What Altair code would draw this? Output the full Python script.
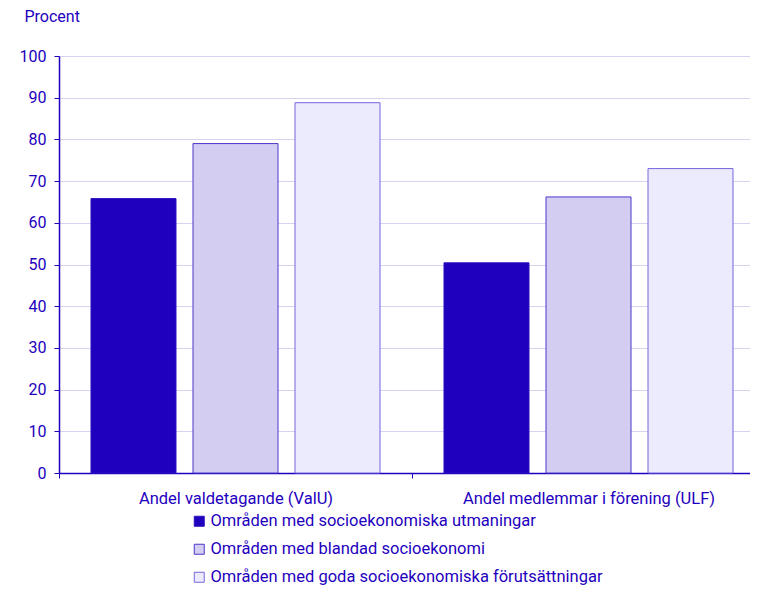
import altair as alt
import pandas as pd

categories = ["Andel valdetagande (ValU)", "Andel medlemmar i förening (ULF)"]
groups = [
    "Områden med socioekonomiska utmaningar",
    "Områden med blandad socioekonomi",
    "Områden med goda socioekonomiska förutsättningar",
]
valu = [65.8, 79.0, 88.8]
ulf = [50.4, 66.2, 73.0]

rows = []
for g, v in zip(groups, valu):
    rows.append({"kategori": categories[0], "grupp": g, "procent": v})
for g, v in zip(groups, ulf):
    rows.append({"kategori": categories[1], "grupp": g, "procent": v})
df = pd.DataFrame(rows)

TXT = "#1E00BE"
fills = ["#1E00BE", "#D2CDF1", "#ECEAFD"]
strokes = ["#2A10C0", "#4A38CC", "#7466DD"]
FONT = "Roboto"

chart = alt.Chart(df).mark_bar(strokeWidth=1).encode(
    x=alt.X("kategori:N", sort=categories,
            scale=alt.Scale(range=[0, 706], paddingInner=0, paddingOuter=0),
            axis=alt.Axis(title=None, labelAngle=0, tickBand="extent",
                          labelFontSize=16.5, labelPadding=12, labelLimit=600,
                          domainColor=TXT, tickColor=TXT, tickSize=5,
                          domainWidth=1.5)),
    xOffset=alt.XOffset("grupp:N", sort=groups,
                        scale=alt.Scale(paddingInner=1/6, paddingOuter=0.3137)),
    y=alt.Y("procent:Q", scale=alt.Scale(domain=[0, 100]),
            axis=alt.Axis(values=list(range(0, 101, 10)), title="Procent",
                          titleAngle=0, titleAlign="left", titleBaseline="middle",
                          titleX=-35, titleY=-40, titleFontSize=16,
                          titleFontWeight="normal", labelFontSize=16,
                          labelPadding=8, tickSize=5, domainColor=TXT,
                          tickColor=TXT, domainWidth=1.5, gridColor="#D6D3F0")),
    fill=alt.Fill("grupp:N", sort=groups, scale=alt.Scale(domain=groups, range=fills),
                  legend=alt.Legend(title=None, orient="none", legendX=132, legendY=457,
                                    direction="vertical", symbolType="square",
                                    symbolSize=100, labelFontSize=16.5, labelOffset=3,
                                    rowPadding=11, symbolStrokeWidth=1, labelLimit=600)),
    stroke=alt.Stroke("grupp:N", sort=groups, scale=alt.Scale(domain=groups, range=strokes)),
).properties(
    width=691, height=417,
    autosize=alt.AutoSizeParams(type="none"),
    padding={"left": 51, "top": 48, "right": 0, "bottom": 118},
).configure_view(stroke=None).configure(font=FONT).configure_axis(
    labelColor=TXT, titleColor=TXT, labelFont=FONT, titleFont=FONT
).configure_legend(labelColor=TXT, labelFont=FONT)

chart.save("out.html", embed_options={"renderer": "svg", "actions": False})
